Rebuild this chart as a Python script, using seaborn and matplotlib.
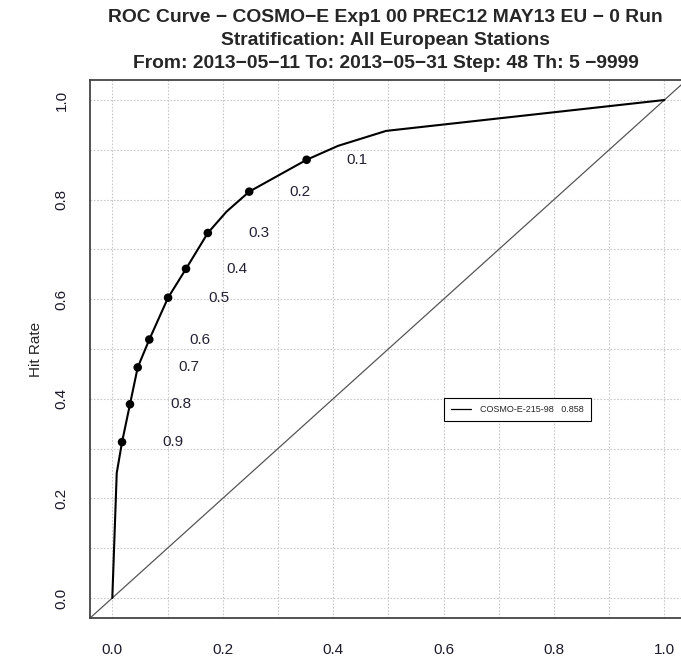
import numpy as np
import pandas as pd
import matplotlib
matplotlib.use('Agg')
import matplotlib.pyplot as plt
import seaborn as sns

# ROC data (false alarm rate, hit rate)
far_curve = [0.0, 0.008, 0.0176, 0.032, 0.046, 0.067, 0.101, 0.1335, 0.173, 0.207,
             0.248, 0.352, 0.409, 0.496, 1.0]
hr_curve = [0.0, 0.251, 0.313, 0.389, 0.463, 0.519, 0.603, 0.661, 0.733, 0.776,
            0.816, 0.880, 0.908, 0.938, 1.0]

# probability thresholds and their points on the curve
thresholds = ['0.9', '0.8', '0.7', '0.6', '0.5', '0.4', '0.3', '0.2', '0.1']
far_pts = [0.0176, 0.032, 0.046, 0.067, 0.101, 0.1335, 0.173, 0.248, 0.352]
hr_pts = [0.313, 0.389, 0.463, 0.519, 0.603, 0.661, 0.733, 0.816, 0.880]

model_name = 'COSMO-E-215-98'
roc_area = '0.858'

title_lines = ['ROC Curve \u2212 COSMO\u2212E Exp1 00 PREC12 MAY13 EU \u2212 0 Run',
               'Stratification: All European Stations',
               'From: 2013\u221205\u221211 To: 2013\u221205\u221231 Step: 48 Th: 5 \u22129999']

sns.set_style('white')
plt.rcParams['font.family'] = ['Liberation Sans', 'DejaVu Sans']

curve_df = pd.DataFrame({'far': far_curve, 'hr': hr_curve})
pts_df = pd.DataFrame({'far': far_pts, 'hr': hr_pts, 'th': thresholds})

fig = plt.figure(figsize=(6.81, 6.56), dpi=100)
ax = fig.add_axes([0.1325, 0.0581, 0.8755, 0.8198])

# grid every 0.1, dotted
for g in np.arange(0, 1.01, 0.1):
    ax.axvline(g, color='#c8c8c8', lw=0.8, ls=(0, (1.5, 1.5)), zorder=0)
    ax.axhline(g, color='#c8c8c8', lw=0.8, ls=(0, (1.5, 1.5)), zorder=0)

# no-skill diagonal
ax.plot([-0.1, 1.1], [-0.1, 1.1], color='#555555', lw=0.9, zorder=1)

sns.lineplot(data=curve_df, x='far', y='hr', ax=ax, color='black', lw=1.5,
             sort=False, estimator=None, label=f'{model_name}   {roc_area}', zorder=3)
sns.scatterplot(data=pts_df, x='far', y='hr', ax=ax, color='black', s=38,
                edgecolor='none', zorder=4, legend=False)

for _, r in pts_df.iterrows():
    ax.text(r['far'] + 0.092, r['hr'], r['th'], ha='center', va='center',
            fontsize=11, color='#222233')

ax.set_xlim(-0.04, 1.04)
ax.set_ylim(-0.04, 1.04)
ticks = [0.0, 0.2, 0.4, 0.6, 0.8, 1.0]
ax.set_xticks(ticks)
ax.set_yticks(ticks)
ax.set_xticklabels([f'{t:.1f}' for t in ticks], fontsize=11, color='#1a1a2a')
ax.set_yticklabels([f'{t:.1f}' for t in ticks], fontsize=11, color='#1a1a2a',
                   rotation=90, va='center')
ax.tick_params(direction='out', length=8, width=1, color='#222222')
ax.tick_params(axis='y', pad=7.5)
ax.tick_params(axis='x', pad=10)
ax.set_xlabel('')
ax.set_ylabel('Hit Rate', fontsize=11, labelpad=8.5)
for s in ax.spines.values():
    s.set_color('#444444')
    s.set_linewidth(1.3)

leg = ax.legend(loc='upper left', bbox_to_anchor=(0.593, 0.409), borderaxespad=0,
                fontsize=6.5, frameon=True, fancybox=False, framealpha=1,
                handlelength=2.2, handletextpad=1.0, borderpad=0.8)
leg.get_frame().set_edgecolor('black')
leg.get_frame().set_linewidth(0.8)
for h in leg.get_lines():
    h.set_linewidth(0.9)

title_y = [17, 40.5, 64]
for line, yp in zip(title_lines, title_y):
    fig.text(0.566, 1 - yp / 656, line, ha='center', va='center',
             fontsize=13.9, fontweight='bold')

fig.savefig('out.png', dpi=100)
